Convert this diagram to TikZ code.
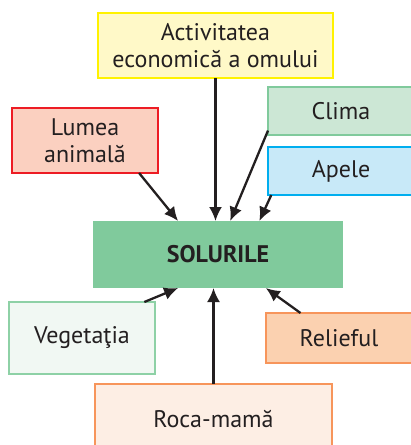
\documentclass[tikz,border=0pt]{standalone}
\usepackage{fontspec}
\setmainfont{PT Sans}
\usetikzlibrary{arrows.meta,positioning}
\definecolor{yelBd}{HTML}{FFF200}
\definecolor{yelFl}{HTML}{FFF9C8}
\definecolor{grnBd}{HTML}{80CA9C}
\definecolor{grnFl}{HTML}{CCE7D5}
\definecolor{bluBd}{HTML}{00AEEF}
\definecolor{bluFl}{HTML}{C8E9F8}
\definecolor{redBd}{HTML}{ED1C24}
\definecolor{redFl}{HTML}{FBD0C0}
\definecolor{vegBd}{HTML}{8ED1A6}
\definecolor{vegFl}{HTML}{F1F8F3}
\definecolor{orgBd}{HTML}{F7955B}
\definecolor{orgFl}{HTML}{FBD1B0}
\definecolor{rocFl}{HTML}{FDEEE4}
\definecolor{solFl}{HTML}{80CA9C}
\definecolor{ink}{HTML}{231F20}
\tikzset{
  factor/.style={draw, line width=2.2pt, align=center, inner sep=0pt, outer sep=0pt,
    font=\fontsize{24}{27.5}\selectfont, text=ink},
  soil/.style={fill=solFl, align=center, inner sep=0pt, outer sep=0pt,
    font=\fontsize{24}{27}\selectfont\bfseries, text=ink},
  ->/.style={-{Latex[length=14pt,width=13pt]}, line width=2.3pt, draw=ink}
}

\begin{document}
\begin{tikzpicture}[x=1pt,y=-1pt]
\useasboundingbox (0,0) rectangle (411,445);
\clip (0,0) rectangle (411,445);

% Top row: factors above the soil box
\node[factor, draw=yelBd, fill=yelFl, minimum width=235pt, minimum height=65pt] (Act) at (215.5,45.5) {Activitatea\\economică a omului};
\node[factor, draw=redBd, fill=redFl, minimum width=146pt, minimum height=65pt] (Lumea) at (85,140.5) {Lumea\\animală};
\node[factor, draw=grnBd, fill=grnFl, minimum width=146pt, minimum height=48pt] (Clima) at (341,111) {Clima};
\node[factor, draw=bluBd, fill=bluFl, minimum width=146pt, minimum height=48pt] (Apele) at (341,171) {Apele};

% Centre
\node[soil, minimum width=250pt, minimum height=67pt] (Sol) at (218,254.5) {SOLURILE};

% Bottom row
\node[factor, draw=vegBd, fill=vegFl, minimum width=146pt, minimum height=72pt] (Veg) at (82,338) {Vegetaţia};
\node[factor, draw=orgBd, fill=orgFl, minimum width=146pt, minimum height=50pt] (Relief) at (339,338) {Relieful};
\node[factor, draw=orgBd, fill=rocFl, minimum width=237pt, minimum height=70pt] (Roca) at (213.5,419) {Roca-mamă};

% Arrows: factors -> soil
\draw[->] (Act.south) -- (Act.south |- Sol.north);
\draw[->] (Lumea.-31) -- (Sol.140);
\draw[->] (Clima.195) -- (Sol.70);
\draw[->] (Apele.199) -- (Sol.39);
\draw[->] (Veg.30) -- (Sol.220);
\draw[->] (Roca.north) -- (Roca.north |- Sol.south);
\draw[->] (Relief.147) -- (Sol.-35);

\end{tikzpicture}
\end{document}
